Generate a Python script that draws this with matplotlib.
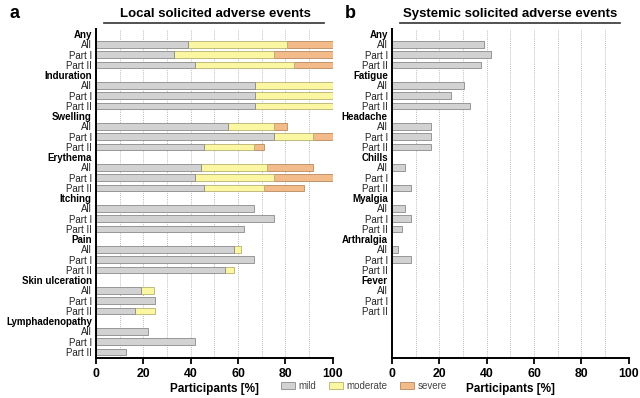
import matplotlib.pyplot as plt
from matplotlib.lines import Line2D
from matplotlib.patches import Patch

plt.rcParams['font.family'] = ['Liberation Sans', 'DejaVu Sans']

row_names = ['All', 'Part I', 'Part II']

# local events: cumulative end of mild / moderate / severe, per group (All, Part I, Part II)
local_groups = ['Any', 'Induration', 'Swelling', 'Erythema', 'Itching', 'Pain',
                'Skin ulceration', 'Lymphadenopathy']
local_mild = [[38.7, 32.9, 41.6], [67.0, 67.0, 67.0], [55.6, 75.0, 45.7], [44.3, 42.0, 45.7],
              [66.7, 75.0, 62.5], [58.4, 66.7, 54.3], [19.2, 25.0, 16.4], [22.0, 41.7, 12.5]]
local_moderate = [[80.8, 75.2, 83.5], [100, 100, 100], [75.0, 91.8, 66.6], [72.3, 75.0, 70.8],
                  [66.7, 75.0, 62.5], [61.1, 66.7, 58.4], [24.7, 25.0, 25.0], [22.0, 41.7, 12.5]]
local_severe = [[100, 100, 100], [100, 100, 100], [80.7, 100, 70.9], [91.8, 100, 87.9],
                [66.7, 75.0, 62.5], [61.1, 66.7, 58.4], [24.7, 25.0, 25.0], [22.0, 41.7, 12.5]]

# systemic events: mild only
sys_groups = ['Any', 'Fatigue', 'Headache', 'Chills', 'Myalgia', 'Arthralgia', 'Fever']
sys_mild = [[38.8, 41.6, 37.4], [30.5, 24.9, 32.9], [16.5, 16.5, 16.5], [5.3, 0, 8.0],
            [5.3, 8.0, 4.1], [2.5, 8.0, 0], [0, 0, 0]]

c_mild = '#d2d2d2'
c_mod = '#faf6a2'
c_sev = '#f3bb8a'
e_mild = '#8a8a8a'
e_mod = '#b8b070'
e_sev = '#b88a60'

fig = plt.figure(figsize=(6.4, 3.98), dpi=100)
ax1 = fig.add_axes([0.150, 0.1005, 0.370, 0.8266])
ax2 = fig.add_axes([0.6125, 0.1005, 0.370, 0.8266])


def setup(ax, groups):
    ticks, labels, bold = [], [], []
    for g, name in enumerate(groups):
        ticks.append(4 * g)
        labels.append(name)
        bold.append(True)
        for r, rn in enumerate(row_names):
            ticks.append(4 * g + r + 1)
            labels.append(rn)
            bold.append(False)
    ax.set_yticks(ticks)
    ax.set_yticklabels(labels, fontsize=7)
    for lab, b in zip(ax.get_yticklabels(), bold):
        if b:
            lab.set_fontweight('bold')
        else:
            lab.set_color('#222222')
    ax.tick_params(axis='y', length=0, pad=3)
    ax.set_ylim(31.6, -0.5)
    ax.set_xlim(0, 100)
    ax.set_xticks([0, 20, 40, 60, 80, 100])
    ax.set_xticks(range(10, 100, 10), minor=True)
    ax.tick_params(axis='x', which='major', length=4, width=1.3, labelsize=8.8, pad=3)
    ax.tick_params(axis='x', which='minor', length=0)
    for lab in ax.get_xticklabels():
        lab.set_fontweight('bold')
    ax.grid(axis='x', which='both', linestyle=(0, (1, 1.5)), color='#a5a5a5', linewidth=0.6)
    ax.set_axisbelow(True)
    for s in ['top', 'right']:
        ax.spines[s].set_visible(False)
    ax.spines['left'].set_linewidth(1.4)
    ax.spines['bottom'].set_linewidth(1.4)
    ax.set_xlabel('Participants [%]', fontsize=8.5, fontweight='bold', labelpad=2)


setup(ax1, local_groups)
setup(ax2, sys_groups)

h = 0.62
for g in range(len(local_groups)):
    for r in range(3):
        y = 4 * g + r + 1
        m, mo, s = local_mild[g][r], local_moderate[g][r], local_severe[g][r]
        if s > mo:
            ax1.barh(y, s - mo, left=mo, height=h, color=c_sev, edgecolor=e_sev, linewidth=0.6)
        if mo > m:
            ax1.barh(y, mo - m, left=m, height=h, color=c_mod, edgecolor=e_mod, linewidth=0.6)
        ax1.barh(y, m, height=h, color=c_mild, edgecolor=e_mild, linewidth=0.6)

for g in range(len(sys_groups)):
    for r in range(3):
        v = sys_mild[g][r]
        if v > 0:
            ax2.barh(4 * g + r + 1, v, height=h, color=c_mild, edgecolor=e_mild, linewidth=0.6)

# titles with underline
fig.text(215 / 640, 1 - 14 / 398, 'Local solicited adverse events', ha='center', va='center',
         fontsize=9.5, fontweight='bold')
fig.text(510 / 640, 1 - 14 / 398, 'Systemic solicited adverse events', ha='center', va='center',
         fontsize=9.5, fontweight='bold')
fig.add_artist(Line2D([104 / 640, 324 / 640], [1 - 23 / 398] * 2, color='#333333', linewidth=1.2))
fig.add_artist(Line2D([400 / 640, 620 / 640], [1 - 23 / 398] * 2, color='#333333', linewidth=1.2))
fig.text(9 / 640, 1 - 13 / 398, 'a', ha='left', va='center', fontsize=13, fontweight='bold')
fig.text(345 / 640, 1 - 13 / 398, 'b', ha='left', va='center', fontsize=13, fontweight='bold')

handles = [Patch(facecolor=c_mild, edgecolor=e_mild, linewidth=0.6, label='mild'),
           Patch(facecolor=c_mod, edgecolor=e_mod, linewidth=0.6, label='moderate'),
           Patch(facecolor=c_sev, edgecolor=e_sev, linewidth=0.6, label='severe')]
fig.legend(handles=handles, loc='center', bbox_to_anchor=(364 / 640, 1 - 386 / 398), ncol=3,
           frameon=False, fontsize=7, handlelength=1.4, handleheight=0.7, handletextpad=0.4,
           columnspacing=1.3, labelcolor='#444444')

fig.savefig('out.png', dpi=100)
